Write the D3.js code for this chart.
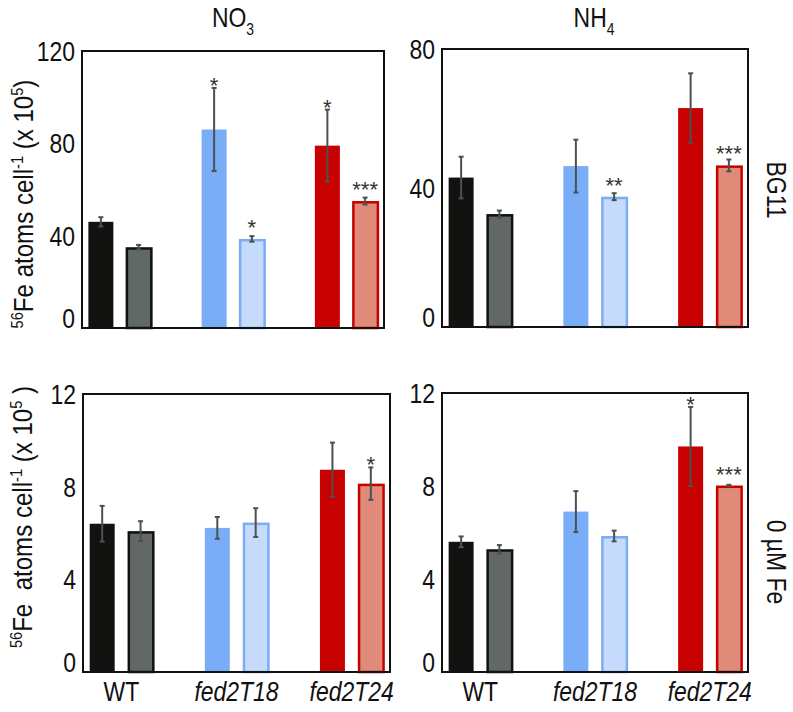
<!DOCTYPE html>
<html><head><meta charset="utf-8">
<script src="https://cdn.jsdelivr.net/npm/d3@7"></script>
<style>
body{margin:0;background:#fff}
text{font-family:"Liberation Sans",Arial,sans-serif;fill:#111}
</style>
</head><body><svg id="c" width="793" height="712"></svg>
<script>
// ---- data ----
const groups = ["WT", "fed2T18", "fed2T24"];
const bars = ["WT-a", "WT-b", "fed2T18-a", "fed2T18-b", "fed2T24-a", "fed2T24-b"];
const rowsLabels = ["BG11", "0 µM Fe"];

const valuesNO3_BG11 = [46, 35, 86, 38.6, 79, 55];
const errNO3_BG11    = [2, 1, 18, 1.2, 15.6, 1.5];
const starsNO3_BG11  = ["", "", "*", "*", "*", "***"];
const ticksNO3_BG11  = [0, 40, 80, 120];

const valuesNH4_BG11 = [43, 32.5, 46.3, 37.5, 63, 46.5];
const errNH4_BG11    = [6, 1, 7.6, 1, 10, 1.7];
const starsNH4_BG11  = ["", "", "", "**", "", "***"];
const ticksNH4_BG11  = [0, 40, 80];

const valuesNO3_Fe0 = [6.4, 6.08, 6.22, 6.45, 8.73, 8.13];
const errNO3_Fe0    = [0.77, 0.43, 0.47, 0.62, 1.17, 0.7];
const starsNO3_Fe0  = ["", "", "", "", "", "*"];
const ticksNO3_Fe0  = [0, 4, 8, 12];

const valuesNH4_Fe0 = [5.6, 5.28, 6.9, 5.85, 9.7, 8.02];
const errNH4_Fe0    = [0.23, 0.18, 0.88, 0.23, 1.7, 0.03];
const starsNH4_Fe0  = ["", "", "", "", "*", "***"];
const ticksNH4_Fe0  = [0, 4, 8, 12];

// ---- styles ----
const fills   = ["#121310", "#616866", "#7aadf8", "#c6dbfb", "#c70000", "#e08a7a"];
const strokes = [null, "#111", null, "#7aadf5", null, "#c80000"];
const NARROW = 0.82;

const svg = d3.select("#c");

// text helper: parts = [{s, sup, sub, size}]
function label(x, y, rot, anchor, size, sx, parts, opts = {}) {
  const g = svg.append("g").attr("transform", `translate(${x},${y}) rotate(${rot}) scale(${sx},1)`);
  const t = g.append("text").attr("text-anchor", anchor)
    .style("font-size", size + "px").style("white-space", "pre");
  if (opts.italic) t.style("font-style", "italic");
  let cur = 0;
  parts.forEach(p => {
    const target = p.sup ? -p.sup : (p.sub ? p.sub : 0);
    const ts = t.append("tspan").attr("dy", target - cur).text(p.s);
    if (p.size) ts.style("font-size", p.size + "px");
    cur = target;
  });
  return t;
}

const panels = [
  {vals: valuesNO3_BG11, errs: errNO3_BG11, stars: starsNO3_BG11, ticks: ticksNO3_BG11, x0: 82, x1: 384, y0: 51, y1: 328},
  {vals: valuesNH4_BG11, errs: errNH4_BG11, stars: starsNH4_BG11, ticks: ticksNH4_BG11, x0: 442, x1: 748, y0: 49, y1: 327},
  {vals: valuesNO3_Fe0, errs: errNO3_Fe0, stars: starsNO3_Fe0, ticks: ticksNO3_Fe0, x0: 83, x1: 390, y0: 394, y1: 672},
  {vals: valuesNH4_Fe0, errs: errNH4_Fe0, stars: starsNH4_Fe0, ticks: ticksNH4_Fe0, x0: 442, x1: 748, y0: 393, y1: 672}
];

const slotDomain = ["WT-a", "WT-b", "gap1", "fed2T18-a", "fed2T18-b", "gap2", "fed2T24-a", "fed2T24-b"];

panels.forEach((p, pi) => {
  const g = svg.append("g");
  const x = d3.scaleBand().domain(slotDomain).range([p.x0, p.x1]).paddingInner(0).paddingOuter(0);
  const y = d3.scaleLinear().domain([0, d3.max(p.ticks)]).range([p.y1, p.y0]);
  const bw = 26;
  const cx = d => x(d.b) + x.bandwidth() / 2;
  const data = bars.map((b, i) => ({b, i, v: p.vals[i], e: p.errs[i], s: p.stars[i]}));

  // bars
  g.selectAll("rect.bar").data(data).join("rect")
    .attr("class", "bar")
    .attr("x", d => cx(d) - bw / 2 + (strokes[d.i] ? 1.25 : 0.5))
    .attr("width", d => strokes[d.i] ? bw - 1.5 : bw - 1)
    .attr("y", d => y(d.v) + (strokes[d.i] ? 1.25 : 0))
    .attr("height", d => y(0) - y(d.v) - (strokes[d.i] ? 1.25 : 0))
    .attr("fill", d => fills[d.i])
    .attr("stroke", d => strokes[d.i] || "none")
    .attr("stroke-width", 2.5);

  // error bars
  const eg = g.selectAll("g.err").data(data).join("g").attr("class", "err")
    .attr("stroke", "#4b5151").attr("stroke-width", 2);
  eg.append("line")
    .attr("x1", cx).attr("x2", cx)
    .attr("y1", d => y(d.v + d.e)).attr("y2", d => y(d.v - d.e));
  eg.append("line")
    .attr("x1", d => cx(d) - 2.5).attr("x2", d => cx(d) + 2.5)
    .attr("y1", d => y(d.v + d.e)).attr("y2", d => y(d.v + d.e));
  eg.append("line")
    .attr("x1", d => cx(d) - 2.5).attr("x2", d => cx(d) + 2.5)
    .attr("y1", d => y(d.v - d.e)).attr("y2", d => y(d.v - d.e));

  // significance stars
  g.selectAll("text.star").data(data.filter(d => d.s)).join("text")
    .attr("class", "star")
    .attr("x", cx)
    .attr("y", d => Math.min(y(d.v + d.e) - 8, y(d.v) - 17) + 13)
    .attr("text-anchor", "middle")
    .style("font-size", "22px")
    .style("fill", "#333")
    .text(d => d.s);

  // frame
  g.append("rect")
    .attr("x", p.x0).attr("y", p.y0)
    .attr("width", p.x1 - p.x0).attr("height", p.y1 - p.y0)
    .attr("fill", "none").attr("stroke", "#111").attr("stroke-width", 2);

  // y tick labels
  p.ticks.forEach(t => {
    label(p.x0 - 7, y(t) + 10 - (t === 0 ? 10 : 0), 0, "end", 28, NARROW, [{s: String(t)}]);
  });

  // x labels on bottom row
  if (pi >= 2) {
    groups.forEach(gname => {
      const gx = (x(gname + "-a") + x(gname + "-b") + x.bandwidth()) / 2;
      label(gx, 701, 0, "middle", 28, NARROW, [{s: gname}], {italic: gname !== "WT"});
    });
  }
});

// column titles
label(233, 27, 0, "middle", 28, NARROW, [{s: "NO"}, {s: "3", sub: 8, size: 17}]);
label(594, 27, 0, "middle", 28, NARROW, [{s: "NH"}, {s: "4", sub: 8, size: 17}]);

// y-axis labels
label(33, 204, -90, "middle", 28, 0.86,
  [{s: "56", sup: 10, size: 17}, {s: "Fe atoms cell"}, {s: "-1", sup: 10, size: 17}, {s: " (x 10"}, {s: "5", sup: 10, size: 17}, {s: ")"}]);
label(32, 517, -90, "middle", 28, 0.86,
  [{s: "56", sup: 10, size: 17}, {s: "Fe  atoms cell"}, {s: "-1", sup: 10, size: 17}, {s: " (x 10"}, {s: "5", sup: 10, size: 17}, {s: " )"}]);

// row labels
label(767, 190, 90, "middle", 28, NARROW, [{s: rowsLabels[0]}]);
label(767, 562, 90, "middle", 28, NARROW, [{s: rowsLabels[1]}]);
</script>
</body></html>
